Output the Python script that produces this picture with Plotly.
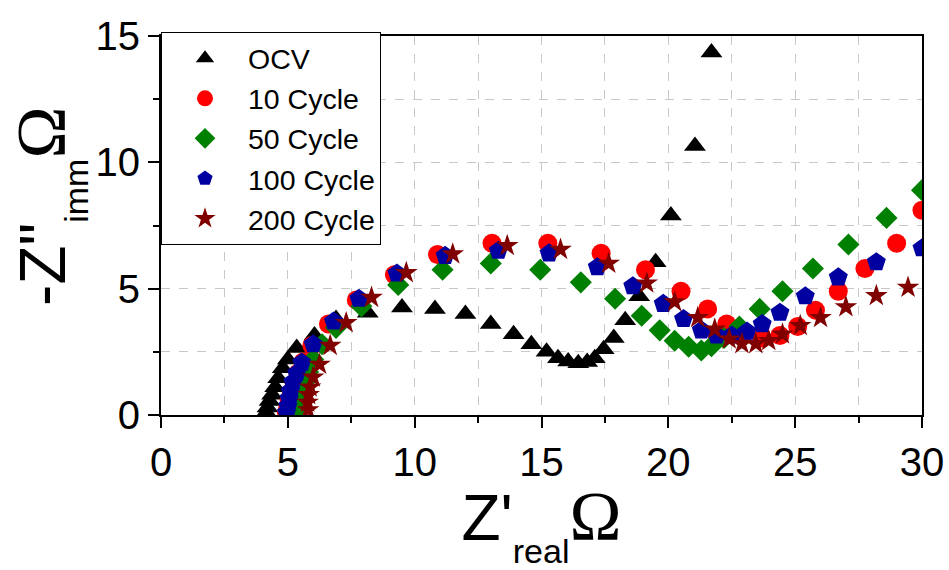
import plotly.graph_objects as go

# ---- data ----
ocv_x = [4.15, 4.2, 4.28, 4.38, 4.5, 4.62, 4.8, 5.0, 5.35, 6.05, 6.9, 8.15, 9.5, 10.8, 12.0, 13.0,
         13.9, 14.6, 15.2, 15.65, 16.05, 16.45, 16.8, 17.1, 17.45, 17.85, 18.3, 18.85, 19.5, 20.1, 21.05, 21.7]
ocv_y = [0.1, 0.3, 0.55, 0.8, 1.1, 1.45, 1.85, 2.2, 2.65, 3.15, 3.8, 4.05, 4.25, 4.2, 4.0, 3.6,
         3.2, 2.8, 2.5, 2.25, 2.12, 2.05, 2.1, 2.25, 2.6, 3.05, 3.75, 4.7, 6.05, 7.9, 10.65, 14.35]

c10_x = [4.95, 5.0, 5.05, 5.15, 5.25, 5.4, 5.6, 5.95, 6.6, 7.7, 9.2, 10.9, 13.05, 15.25, 17.35, 19.1,
         20.5, 21.55, 22.3, 23.0, 23.7, 24.4, 25.1, 25.8, 26.7, 27.75, 29.0, 30.0]
c10_y = [0.1, 0.3, 0.6, 0.9, 1.25, 1.65, 2.1, 2.75, 3.6, 4.55, 5.55, 6.35, 6.8, 6.8, 6.4, 5.75,
         4.9, 4.2, 3.6, 3.25, 3.05, 3.15, 3.5, 4.15, 4.9, 5.8, 6.8, 8.1]

c50_x = [5.4, 5.45, 5.5, 5.55, 5.65, 5.8, 6.0, 6.35, 6.9, 7.9, 9.35, 11.1, 13.0, 14.95, 16.55, 17.9,
         18.95, 19.66, 20.25, 20.8, 21.3, 21.7, 22.2, 22.8, 23.6, 24.5, 25.7, 27.1, 28.6, 30.0]
c50_y = [0.1, 0.35, 0.65, 0.95, 1.3, 1.7, 2.2, 2.8, 3.45, 4.3, 5.15, 5.75, 6.0, 5.75, 5.25, 4.6,
         3.93, 3.35, 2.94, 2.7, 2.55, 2.72, 3.05, 3.5, 4.2, 4.9, 5.8, 6.75, 7.8, 8.9]

c100_x = [4.95, 5.0, 5.05, 5.1, 5.2, 5.35, 5.55, 6.0, 6.8, 7.8, 9.3, 11.2, 13.3, 15.3, 17.2, 18.6,
          19.8, 20.6, 21.3, 21.9, 22.5, 23.1, 23.7, 24.4, 25.4, 26.7, 28.2, 30.0]
c100_y = [0.1, 0.35, 0.65, 0.95, 1.3, 1.65, 2.07, 2.8, 3.7, 4.6, 5.6, 6.3, 6.5, 6.4, 5.85, 5.1,
          4.4, 3.8, 3.35, 3.15, 3.15, 3.3, 3.6, 4.05, 4.7, 5.45, 6.05, 6.6]

c200_x = [5.8, 5.78, 5.82, 5.88, 6.0, 6.25, 6.67, 7.3, 8.3, 9.67, 11.5, 13.65, 15.75, 17.65, 19.15,
          20.25, 21.16, 21.83, 22.4, 22.9, 23.45, 23.96, 24.5, 25.2, 26.0, 27.0, 28.2, 29.45]
c200_y = [0.2, 0.5, 0.8, 1.1, 1.5, 2.0, 2.75, 3.65, 4.65, 5.63, 6.37, 6.7, 6.55, 6.0, 5.22,
          4.48, 3.85, 3.4, 3.0, 2.82, 2.82, 2.94, 3.2, 3.54, 3.85, 4.28, 4.72, 5.05]

names = ["OCV", "10 Cycle", "50 Cycle", "100 Cycle", "200 Cycle"]
xs = [ocv_x, c10_x, c50_x, c100_x, c200_x]
ys = [ocv_y, c10_y, c50_y, c100_y, c200_y]
colors = ["#000000", "#FF0000", "#008000", "#0000A0", "#800000"]
symbols = ["triangle-up", "circle", "diamond", "pentagon", "star"]
sizes = [19, 19, 17, 20, 17]

x_ticks = [0, 5, 10, 15, 20, 25, 30]
y_ticks = [0, 5, 10, 15]

SANS = "Arial, 'Liberation Sans', sans-serif"
SERIF = "'Times New Roman', 'Liberation Serif', serif"
OMEGA = "<span style=\"font-family:" + SERIF + ";font-size:70px\">Ω</span>"

def sub(t):
    return "<sub><sub><span style=\"font-size:34px\">" + t + "</span></sub></sub>"

fig = go.Figure()
for n, x, y, c, s, sz in zip(names, xs, ys, colors, symbols, sizes):
    fig.add_trace(go.Scatter(x=x, y=y, mode="markers", name=n,
                             marker=dict(symbol=s, color=c, size=sz, line=dict(width=0)),
                             cliponaxis=True))

axis_common = dict(
    showline=True, linecolor="black", linewidth=2, mirror=True,
    ticks="outside", ticklen=11, tickwidth=2, tickcolor="black",
    showgrid=True, gridcolor="#C8C8C8", griddash="dash", gridwidth=1,
    zeroline=False, automargin=False,
    tickfont=dict(family=SANS, size=40, color="black"),
    minor=dict(dtick=2.5, ticks="outside", ticklen=6, tickwidth=1.5, tickcolor="black",
               showgrid=True, gridcolor="#C8C8C8", griddash="dash", gridwidth=1),
)

fig.update_layout(
    width=949, height=570,
    margin=dict(l=161, r=27, t=36, b=155),
    paper_bgcolor="white", plot_bgcolor="white",
    showlegend=True,
    legend=dict(x=0, y=1.01, xanchor="left", yanchor="top",
                bgcolor="white", bordercolor="black", borderwidth=1,
                font=dict(family=SANS, size=28.5, color="black"),
                itemwidth=76, tracegroupgap=0),
    xaxis=dict(range=[0, 30], tickmode="array", tickvals=x_ticks,
               ticktext=[str(v) for v in x_ticks],
               title=dict(text="Z'" + sub("real") + OMEGA,
                          font=dict(family=SANS, size=64, color="black"), standoff=22),
               **axis_common),
    yaxis=dict(range=[0, 15], tickmode="array", tickvals=y_ticks,
               ticktext=[str(v) for v in y_ticks],
               **axis_common),
)

# y-axis title (placed slightly above centre, as in the reference)
fig.add_annotation(text="-Z\"" + sub("imm") + OMEGA, textangle=-90,
                   xref="paper", yref="paper", x=-0.148, y=0.55,
                   xanchor="center", yanchor="middle", showarrow=False,
                   font=dict(family=SANS, size=64, color="black"))

fig.write_html("out.html")
